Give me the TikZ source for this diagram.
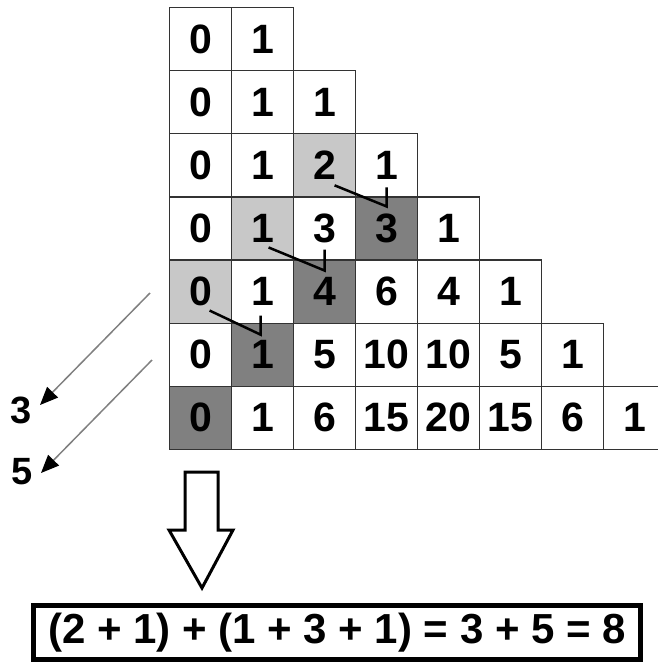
\documentclass[tikz,border=0pt]{standalone}
\usepackage{fontspec}
\setmainfont{Liberation Sans}
\usetikzlibrary{arrows.meta}
\definecolor{lite}{HTML}{C8C8C8}
\definecolor{dark}{HTML}{808080}
\tikzset{
    cell/.style={draw=black!80, line width=1.2pt, minimum width=62pt, minimum height=63.1pt,
        anchor=north west, inner sep=0pt, font=\fontsize{41}{42}\selectfont\bfseries},
    tint 2-2/.style={fill=lite}, tint 3-1/.style={fill=lite}, tint 4-0/.style={fill=lite},
    tint 3-3/.style={fill=dark}, tint 4-2/.style={fill=dark}, tint 5-1/.style={fill=dark},
    tint 6-0/.style={fill=dark},
    hook/.style={line width=2.5pt},
    ptr/.style={draw=gray, line width=1.5pt, -{Triangle[length=18pt,width=15pt,color=black]}},
}
\begin{document}
\begin{tikzpicture}[x=1pt, y=-1pt]
        \useasboundingbox (0,0) rectangle (658,664);
        % the triangle of numbers
        \foreach \vals [count=\row from 0] in {{0,1},{0,1,1},{0,1,2,1},{0,1,3,3,1},{0,1,4,6,4,1},{0,1,5,10,10,5,1},{0,1,6,15,20,15,6,1}} {
            \foreach \v [count=\col from 0] in \vals {
                \node[cell, tint \row-\col/.try] (c-\row-\col) at ({169+62*\col},{7+63.1*\row}) {\v};
            }
        }
        % hockey sticks
        \draw[hook] ([shift={(10,20)}]c-2-2.center) -- ([shift={(0,-22)}]c-3-3.center) -- ([shift={(0,-41)}]c-3-3.center);
        \draw[hook] ([shift={(6,19)}]c-3-1.center) -- ([shift={(0,-21)}]c-4-2.center) -- ([shift={(0,-42)}]c-4-2.center);
        \draw[hook] ([shift={(9,19)}]c-4-0.center) -- ([shift={(-2,-20)}]c-5-1.center) -- ([shift={(-2,-39)}]c-5-1.center);
        % diagonal sums
        \node[inner sep=0pt, font=\fontsize{38}{39}\selectfont\bfseries] (n3) at (21,410) {3};
        \node[inner sep=0pt, font=\fontsize{38}{39}\selectfont\bfseries] (n5) at (22,472) {5};
        \coordinate (s3) at (150,293);
        \coordinate (s5) at (152,360);
        \draw[ptr] (s3) -- ([shift={(19,-5)}]n3.center);
        \draw[ptr] (s5) -- ([shift={(19,1)}]n5.center);
        % result
        \draw[line width=3pt] (185,472) -- (218,472) -- (218,530) -- (233,530) -- (202,588) -- (169,530) -- (185,530) -- cycle;
        \node[draw, line width=5pt, minimum width=607pt, minimum height=54pt, inner sep=0pt,
            font=\fontsize{42}{43}\selectfont\bfseries] (sum) at (337,632.5) {(2 + 1) + (1 + 3 + 1) = 3 + 5 = 8};
    \end{tikzpicture}
\end{document}
